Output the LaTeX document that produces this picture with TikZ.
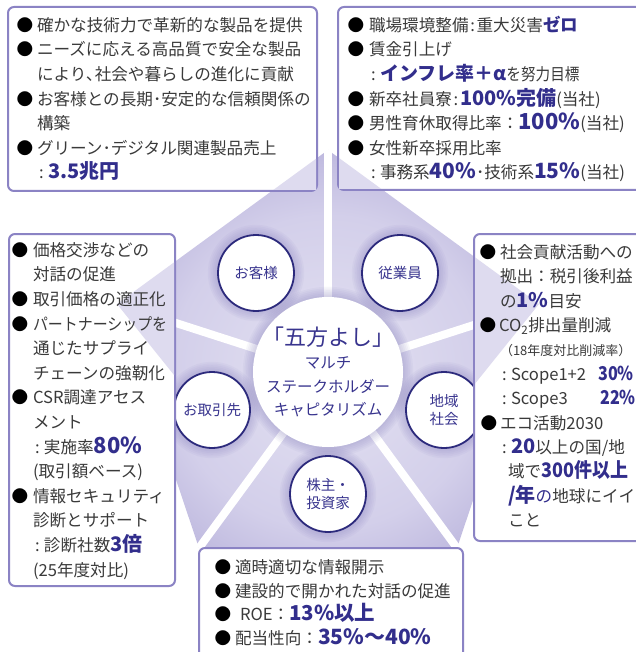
\documentclass[tikz,border=0pt]{standalone}
\usepackage{fontspec}
\usepackage{graphicx}
\setmainfont{Noto Sans CJK JP}
\definecolor{boxc}{HTML}{8B83C4}
\definecolor{navy}{HTML}{2C2A7C}
\definecolor{hl}{HTML}{322E8C}
\definecolor{txt}{HTML}{3A3A3A}
\definecolor{ctext}{HTML}{38348E}
\definecolor{p0}{HTML}{E4E2F2}
\definecolor{p1}{HTML}{D3CFEA}
\definecolor{p2}{HTML}{B6B0DA}
\definecolor{p3}{HTML}{9D95C9}
\definecolor{peekc}{HTML}{DEDBEF}
\definecolor{glowc}{HTML}{6F66B0}
\pgfdeclareradialshading{pent}{\pgfpoint{0bp}{0bp}}{color(0bp)=(p0); color(17bp)=(p1); color(27bp)=(p2); color(50bp)=(p3)}
\newcommand\hlt[2][20]{{\fontsize{#1pt}{#1pt}\selectfont\bfseries\color{hl}#2}}
\newcommand\cln{\makebox[11pt][l]{\hspace{2pt}:}}
\newcommand\tline[3]{\node[tl] at (#1,#2+6.3) {#3};}
\newcommand\bul[2]{\node[bu] at (#1,#2) {●};}
\newcommand\glow[3]{\foreach \k in {1,...,6}{\fill[glowc, fill opacity=0.05] (#1,#2) circle[radius=#3pt+\k*1.7pt];}}
\begin{document}
\begin{tikzpicture}[x=1pt,y=-1pt,
  tl/.style={anchor=base west, inner sep=0pt, outer sep=0pt, text=txt, font=\fontsize{16.6pt}{20pt}\selectfont},
  bu/.style={inner sep=0pt, outer sep=0pt, text=black, font=\fontsize{16.6pt}{20pt}\selectfont},
  box/.style={draw=boxc, line width=2pt, rounded corners=6pt, fill=white},
  peek/.style={fill=peekc},
  smallc/.style={circle, draw=navy, line width=1.8pt, fill=white, minimum size=76pt, inner sep=0pt, align=center, text=ctext, font=\fontsize{14.5pt}{18pt}\selectfont},
  bigc/.style={circle, fill=white, minimum size=150pt, inner sep=0pt},
  ctx/.style={anchor=base, inner sep=0pt, text=ctext},
  divider/.style={white, line width=8pt},
  pct/.style={anchor=base west, inner sep=0pt}]
\useasboundingbox (0,0) rectangle (635,652);
\fill[white] (0,0) rectangle (635,652);
% pentagon
\coordinate (C) at (328,372);
\coordinate (V0) at (328,150);
\coordinate (V1) at (539,304);
\coordinate (V2) at (457,548);
\coordinate (V3) at (199,548);
\coordinate (V4) at (117,304);
\begin{scope}
  \clip (V0)--(V1)--(V2)--(V3)--(V4)--cycle;
  \shade[shading=pent] (C) circle[radius=230pt];
\end{scope}
\foreach \v in {V0,V1,V2,V3,V4} \draw[divider] (C) -- (\v);
% glows
\glow{328}{372}{75}
\glow{256}{273}{38}
\glow{400}{273}{38}
\glow{212}{410}{38}
\glow{444}{410}{38}
\glow{328}{494}{38}
% circles
\node[bigc] (core) at (328,372) {};
\node[smallc] (cust) at (256,273) {お客様};
\node[smallc] (emp) at (400,273) {従業員};
\node[smallc] (supp) at (212,410) {お取引先};
\node[smallc] (comm) at (444,410) {地域\\社会};
\node[smallc] (share) at (328,494) {株主・\\投資家};
\node[ctx, font=\fontsize{22pt}{22pt}\selectfont] (core1) at (328,345.4) {「五方よし」};
\node[ctx, font=\fontsize{15.5pt}{16pt}\selectfont] (core2) at (328,368.9) {マルチ};
\node[ctx, font=\fontsize{15.5pt}{16pt}\selectfont] (core3) at (328,392.9) {ステークホルダー};
\node[ctx, font=\fontsize{15.5pt}{16pt}\selectfont] (core4) at (328,415.9) {キャピタリズム};
% boxes
\draw[box] (8,7) rectangle (317,191);
\draw[box] (338,7) rectangle (648,190);
\draw[box] (9,234) rectangle (175,586);
\draw[box] (474,234) rectangle (648,541);
\draw[box] (199,548) rectangle (463,668);
% peeks of the pentagon through the boxes
\fill[peek] (273.2,190) -- (316,190) -- (316,158.8) -- cycle;
\fill[peek] (339,158) -- (339,189) -- (381.4,189) -- cycle;
\fill[peek] (117,304) -- (174,262.4) -- (174,375) -- cycle;
\fill[peek] (539,304) -- (475,257.3) -- (475,383.7) -- cycle;
% box 1
\bul{25}{25}\tline{37}{25}{確かな技術力で革新的な製品を提供}
\bul{25}{49.6}\tline{37}{49.6}{ニーズに応える高品質で安全な製品}
\tline{37}{74.2}{により､社会や暮らしの進化に貢献}
\bul{25}{98.8}\tline{37}{98.8}{お客様との長期･安定的な信頼関係の}
\tline{37}{123.4}{構築}
\bul{25}{148}\tline{37}{148}{グリーン･デジタル関連製品売上}
\tline{37}{172.6}{\cln\hlt[20]{3.5兆円}}
% box 2
\bul{356}{25}\tline{369}{25}{職場環境整備\makebox[8pt]{:}重大災害\hlt[17.5]{ゼロ}}
\bul{356}{49.6}\tline{369}{49.6}{賃金引上げ}
\tline{369}{74.2}{\cln\hlt[19]{インフレ率＋α}\scalebox{0.88}[1]{を努力目標}}
\bul{356}{98.8}\tline{369}{98.8}{新卒社員寮\makebox[8pt]{:}\hlt[20]{100\%完備}(当社)}
\bul{356}{123.4}\tline{369}{123.4}{男性育休取得比率：\hlt[22]{100\%}(当社)}
\bul{356}{148}\tline{369}{148}{女性新卒採用比率}
\tline{369}{172.6}{\cln 事務系\hlt[21]{40\%}･技術系\hlt[21]{15\%}(当社)}
% box 3
\bul{20}{250}\tline{33}{250}{価格交渉などの}
\tline{33}{274.6}{対話の促進}
\bul{20}{299.2}\tline{33}{299.2}{取引価格の適正化}
\bul{20}{323.8}\tline{33}{323.8}{\scalebox{0.9}[1]{パートナーシップを}}
\tline{33}{348.4}{通じたサプライ}
\tline{33}{373}{チェーンの強靭化}
\bul{20}{397.6}\tline{33}{397.6}{CSR調達アセス}
\tline{33}{422.2}{メント}
\tline{33}{446.8}{\cln 実施率\hlt[22]{80\%}}
\tline{33}{471.4}{(取引額ベース)}
\bul{20}{496}\tline{33}{496}{情報セキュリティ}
\tline{33}{520.6}{診断とサポート}
\tline{33}{545.2}{\cln 診断社数\hlt[20]{3倍}}
\tline{33}{569.8}{(25年度対比)}
% box 4
\bul{488}{252}\tline{500}{252}{社会貢献活動への}
\tline{500}{276.4}{拠出：税引後利益}
\tline{500}{300.8}{の\hlt[20]{1\%}目安}
\bul{488}{325.2}\tline{499}{325.2}{CO\textsubscript{2}排出量削減}
\tline{500}{349.6}{{\fontsize{13pt}{14pt}\selectfont（18年度対比削減率）}}
\tline{500}{374}{\cln Scope1+2}
\node[pct] (s12) at (598,380.3) {\scalebox{0.85}[1]{\hlt[19]{30\%}}};
\tline{500}{398.4}{\cln Scope3}
\node[pct] (s3) at (600,404.7) {\scalebox{0.85}[1]{\hlt[19]{22\%}}};
\bul{489}{422.8}\tline{500}{422.8}{エコ活動2030}
\tline{500}{447.2}{\cln\hlt[20]{20}以上の国/地}
\tline{508}{471.6}{域で\scalebox{0.9}[1]{\hlt[20]{300件以上}}}
\tline{508}{496}{\hlt[20]{/年}{\color{hl}の}地球にイイ}
\tline{508}{520.4}{こと}
% box 5
\bul{223}{567}\tline{235}{567}{適時適切な情報開示}
\bul{223}{590.7}\tline{235}{590.7}{建設的で開かれた対話の促進}
\bul{223}{614.4}\tline{235}{614.4}{\hspace{5pt}ROE：\hlt[20.5]{13\%以上}}
\bul{223}{638.1}\tline{235}{638.1}{配当性向：\hlt[21]{35\%～40\%}}
\end{tikzpicture}
\end{document}
